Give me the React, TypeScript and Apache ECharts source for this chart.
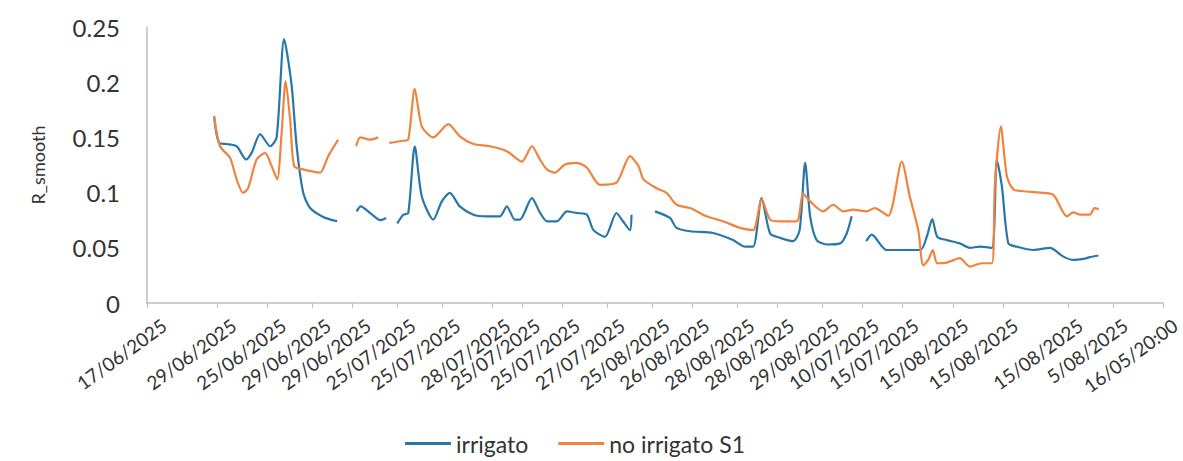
import React, { useEffect, useRef } from "react";
import * as echarts from "echarts";

// x positions are slot indices along the time axis (0 .. 203)
const SLOT_COUNT = 204;

const tickSlots = [0, 14, 24, 33, 41, 50, 59, 69, 75, 83, 92, 101, 109, 118, 126, 135, 143, 151, 161, 171, 184, 193, 203];
const tickLabels = [
  "17/06/2025", "29/06/2025", "25/06/2025", "29/06/2025", "29/06/2025", "25/07/2025",
  "25/07/2025", "28/07/2025", "25/07/2025", "25/07/2025", "27/07/2025", "25/08/2025",
  "26/08/2025", "28/08/2025", "28/08/2025", "29/08/2025", "10/07/2025", "15/07/2025",
  "15/08/2025", "15/08/2025", "15/08/2025", "5/08/2025", "16/05/20:00",
];

const yTicks = [0, 0.05, 0.1, 0.15, 0.2, 0.25];

const irrigato: [number, number | null][] = [
  [13.4, 0.169], [14.4, 0.145], [15.9, 0.144], [17.9, 0.142], [19.8, 0.13], [20.9, 0.136],
  [22.6, 0.153], [24.6, 0.142], [25.9, 0.15], [27.4, 0.239], [28.9, 0.197], [29.9, 0.142],
  [31.2, 0.1], [32.6, 0.086], [35.2, 0.078], [38.0, 0.074], [39.5, null],
  [41.9, 0.083], [42.7, 0.0875], [44.6, 0.0815], [46.6, 0.075], [47.8, 0.077], [49, null],
  [50.0, 0.072], [51.2, 0.08], [52.2, 0.0815], [53.5, 0.142], [54.9, 0.0966], [57.2, 0.0755],
  [58.9, 0.092], [60.5, 0.0997], [62.5, 0.0875], [65.2, 0.08], [67.9, 0.0785], [70.5, 0.0785],
  [71.9, 0.0875], [73.5, 0.0755], [74.5, 0.0755], [76.9, 0.095], [78.5, 0.082], [79.9, 0.074],
  [81.9, 0.074], [83.9, 0.083], [85.9, 0.0815], [87.9, 0.08], [89.2, 0.066], [91.5, 0.06],
  [93.8, 0.0815], [95.1, 0.074], [96.5, 0.066], [96.8, 0.08], [98, null],
  [101.5, 0.083], [104.5, 0.077], [105.8, 0.068], [108.5, 0.065], [113.1, 0.0634], [117.1, 0.057],
  [119.5, 0.051], [121.1, 0.051], [122.8, 0.095], [124.5, 0.063], [126.5, 0.059], [129.1, 0.056],
  [130.4, 0.066], [131.5, 0.127], [132.5, 0.0785], [133.8, 0.057], [135.8, 0.053], [138.5, 0.054],
  [139.8, 0.063], [140.8, 0.0785], [142, null],
  [143.7, 0.056], [144.8, 0.062], [147.8, 0.048], [154.5, 0.048], [155.8, 0.06], [156.9, 0.076],
  [157.9, 0.06], [159.8, 0.057], [162.4, 0.054], [164.4, 0.05], [166.4, 0.051], [168.8, 0.05],
  [169.8, 0.13], [170.8, 0.106], [172.1, 0.054], [173.8, 0.051], [177.1, 0.048], [180.4, 0.05],
  [183.1, 0.042], [185.1, 0.039], [187.1, 0.04], [188.4, 0.0415], [190.1, 0.043],
];

const noIrrigatoS1: [number, number | null][] = [
  [13.4, 0.169], [14.6, 0.142], [16.6, 0.1315], [17.9, 0.112], [19.2, 0.0997], [20.2, 0.104],
  [21.9, 0.13], [23.6, 0.136], [24.9, 0.124], [26.0, 0.112], [26.9, 0.154], [27.7, 0.201],
  [28.6, 0.166], [29.4, 0.124], [31.2, 0.121], [33.2, 0.119], [34.6, 0.118], [36.2, 0.133],
  [38.2, 0.148], [40, null],
  [41.8, 0.142], [42.6, 0.15], [44.6, 0.148], [46.2, 0.15], [47.3, null],
  [48.4, 0.145], [51.2, 0.147], [52.2, 0.148], [53.5, 0.194], [54.9, 0.16], [57.2, 0.15],
  [60.2, 0.162], [62.5, 0.151], [65.2, 0.144], [68.5, 0.142], [71.9, 0.1375], [74.9, 0.128],
  [76.9, 0.142], [78.5, 0.13], [79.9, 0.121], [81.5, 0.118], [83.5, 0.1255], [85.9, 0.127],
  [87.9, 0.1225], [90.5, 0.107], [93.8, 0.109], [96.5, 0.133], [98.2, 0.124], [99.2, 0.112],
  [101.8, 0.104], [103.8, 0.0997], [105.8, 0.089], [108.5, 0.086], [111.8, 0.0785], [115.1, 0.074],
  [118.5, 0.068], [121.1, 0.066], [122.8, 0.094], [124.5, 0.0755], [126.5, 0.074], [129.8, 0.074],
  [131.1, 0.099], [132.5, 0.092], [135.1, 0.083], [137.1, 0.089], [139.1, 0.083], [141.1, 0.0845],
  [143.8, 0.083], [145.4, 0.086], [148.1, 0.079], [150.8, 0.128], [152.4, 0.0966], [154.1, 0.066],
  [155.1, 0.034], [156.1, 0.039], [157.0, 0.048], [157.9, 0.036], [159.8, 0.0366], [162.4, 0.0406],
  [164.4, 0.033], [166.8, 0.036], [168.8, 0.036], [169.4, 0.106], [170.6, 0.16], [171.8, 0.115],
  [173.1, 0.103], [175.8, 0.101], [178.4, 0.1], [181.1, 0.098], [183.8, 0.0785], [185.1, 0.082],
  [186.4, 0.08], [188.4, 0.08], [189.3, 0.086], [190.2, 0.085],
];

const BLUE = "#2877ab";
const ORANGE = "#f0843f";
const FONT = "Lato, 'Noto Sans', sans-serif";
const TEXT = "#333333";

export default function App() {
  const ref = useRef<HTMLDivElement>(null);

  useEffect(() => {
    if (!ref.current) return;
    const chart = echarts.init(ref.current, undefined, { renderer: "svg" });

    const categories: string[] = [];
    for (let i = 0; i < SLOT_COUNT; i++) {
      const k = tickSlots.indexOf(i);
      categories.push(k >= 0 ? tickLabels[k] : "");
    }
    const isTick = (idx: number) => tickSlots.indexOf(idx) >= 0;

    chart.setOption({
      animation: false,
      backgroundColor: "#ffffff",
      textStyle: { fontFamily: FONT },
      grid: [
        { left: 147, right: 20, top: 27, bottom: 158, containLabel: false },
        // label grid: same axis, labels drawn slightly to the right of their ticks (as in the source)
        { left: 164, right: 3, top: 27, bottom: 158, containLabel: false },
      ],
      legend: {
        left: 400,
        top: 427,
        icon: "rect",
        itemWidth: 46,
        itemHeight: 3,
        itemGap: 30,
        textStyle: { fontSize: 23, color: TEXT, fontFamily: FONT },
        data: ["irrigato", "no irrigato S1"],
      },
      xAxis: [
        {
          type: "category",
          gridIndex: 0,
          data: categories,
          boundaryGap: false,
          axisLine: { show: true, lineStyle: { color: "#bfbfbf", width: 1.5 } },
          axisTick: { show: true, interval: (i: number) => isTick(i), length: 5, lineStyle: { color: "#bfbfbf" } },
          axisLabel: { show: false },
          splitLine: { show: false },
        },
        {
          type: "value",
          gridIndex: 0,
          min: 0,
          max: SLOT_COUNT - 1,
          show: false,
          splitLine: { show: false },
        },
        {
          type: "category",
          gridIndex: 1,
          data: categories,
          boundaryGap: false,
          axisLine: { show: false },
          axisTick: { show: false },
          axisLabel: {
            interval: (i: number) => isTick(i),
            rotate: 36,
            margin: 20,
            fontSize: 19,
            color: TEXT,
            fontFamily: FONT,
          },
          splitLine: { show: false },
        },
      ],
      yAxis: [
        {
          type: "value",
          gridIndex: 0,
          min: 0,
          max: 0.25,
          interval: 0.05,
          name: "R_smooth",
          nameLocation: "middle",
          nameGap: 100,
          nameTextStyle: { fontSize: 18, color: TEXT, fontFamily: FONT },
          axisLine: { show: true, lineStyle: { color: "#bfbfbf", width: 1.5 } },
          axisTick: { show: false },
          axisLabel: {
            fontSize: 24,
            color: TEXT,
            margin: 27,
            fontFamily: FONT,
            formatter: (v: number) => {
              const t = yTicks.find((y) => Math.abs(y - v) < 1e-9);
              return String(t !== undefined ? t : v);
            },
          },
          splitLine: { show: false },
        },
        {
          type: "value",
          gridIndex: 1,
          min: 0,
          max: 0.25,
          show: false,
          splitLine: { show: false },
        },
      ],
      series: [
        {
          name: "irrigato",
          type: "line",
          xAxisIndex: 1,
          yAxisIndex: 0,
          data: irrigato,
          showSymbol: false,
          smooth: 0.25,
          connectNulls: false,
          lineStyle: { color: BLUE, width: 2.2 },
          itemStyle: { color: BLUE },
        },
        {
          name: "no irrigato S1",
          type: "line",
          xAxisIndex: 1,
          yAxisIndex: 0,
          data: noIrrigatoS1,
          showSymbol: false,
          smooth: 0.25,
          connectNulls: false,
          lineStyle: { color: ORANGE, width: 2.2 },
          itemStyle: { color: ORANGE },
        },
      ],
    });

    return () => chart.dispose();
  }, []);

  return (
    <div
      ref={ref}
      style={{ position: "fixed", left: 0, top: 0, width: 1183, height: 461, background: "#fff" }}
    />
  );
}
